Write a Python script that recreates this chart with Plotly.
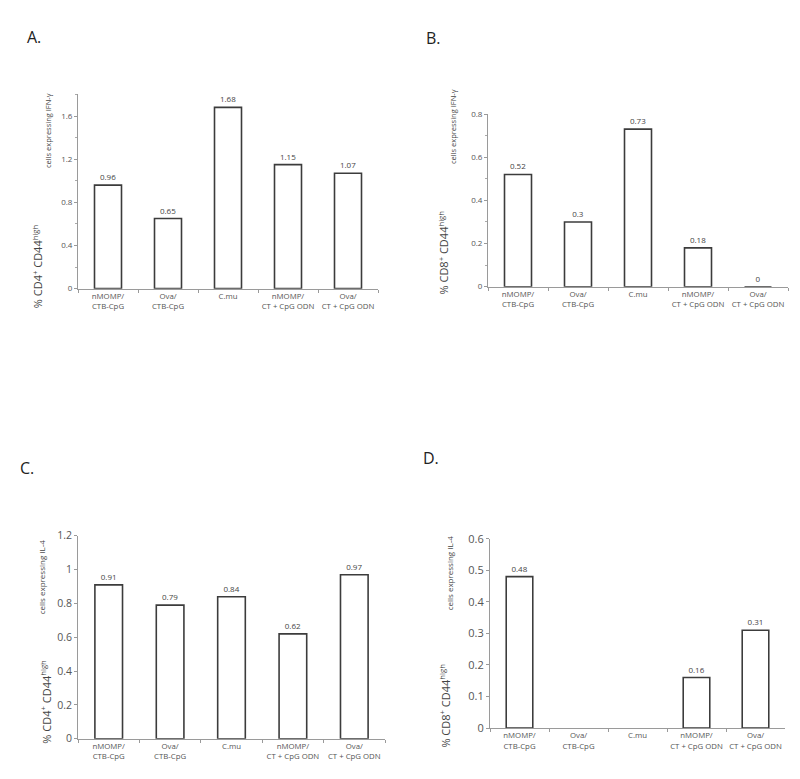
import plotly.graph_objects as go

categories = ["nMOMP/<br>CTB-CpG", "Ova/<br>CTB-CpG", "C.mu",
              "nMOMP/<br>CT + CpG ODN", "Ova/<br>CT + CpG ODN"]

cd4_ifng = [0.96, 0.65, 1.68, 1.15, 1.07]
cd8_ifng = [0.52, 0.3, 0.73, 0.18, 0]
cd4_il4 = [0.91, 0.79, 0.84, 0.62, 0.97]
cd8_il4 = [0.48, None, None, 0.16, 0.31]

W, H = 800, 779
FONT = "Open Sans"


def px(x):
    return x / W


def py(y):
    return 1 - y / H


# panel layout in pixels: (x0, x1, ytop, ybottom)
panels = [
    dict(vals=cd4_ifng, x=(70, 370), y=(80, 278), rng=[0, 1.8], dtick=0.4, minor=0.2, tf=8,
         letter="A.", lpos=(26, 21), cell="IFN-γ", cd="CD4",
         main_x=30, main_bot=300, cells_x=40, cells_top=77, mfs=11, cfs=7.5),
    dict(vals=cd8_ifng, x=(480, 780), y=(100, 276), rng=[0, 0.8], dtick=0.2, minor=0.1, tf=8,
         letter="B.", lpos=(425, 22), cell="IFN-γ", cd="CD8",
         main_x=436, main_bot=286, cells_x=445, cells_top=73, mfs=11, cfs=7.5),
    dict(vals=cd4_il4, x=(70, 377), y=(530, 737), rng=[0, 1.2], dtick=0.2, minor=None, tf=10.5,
         letter="C.", lpos=(19, 461), cell="IL-4", cd="CD4",
         main_x=38, main_bot=744, cells_x=33, cells_top=532, mfs=11, cfs=8),
    dict(vals=cd8_il4, x=(482, 777), y=(533, 726), rng=[0, 0.6], dtick=0.1, minor=None, tf=11,
         letter="D.", lpos=(423, 451), cell="IL-4", cd="CD8",
         main_x=437, main_bot=748, cells_x=441, cells_top=528, mfs=11, cfs=8),
]

fig = go.Figure()
annotations = []

for i, p in enumerate(panels, start=1):
    xa = "x" if i == 1 else f"x{i}"
    ya = "y" if i == 1 else f"y{i}"
    texts = [None if v is None else f"{v:g}" for v in p["vals"]]
    fig.add_trace(go.Bar(
        x=categories, y=p["vals"], xaxis=xa, yaxis=ya,
        text=texts, textposition="outside", cliponaxis=False,
        textfont=dict(size=8, color="#444", family=FONT),
        marker=dict(color="white", line=dict(color="#3c3c3c", width=1.6)),
        showlegend=False,
    ))

    xkey = "xaxis" if i == 1 else f"xaxis{i}"
    ykey = "yaxis" if i == 1 else f"yaxis{i}"
    yaxis = dict(
        domain=[py(p["y"][1]), py(p["y"][0])], anchor=xa, range=p["rng"],
        dtick=p["dtick"], tick0=0, showgrid=False, zeroline=False,
        showline=True, linecolor="#9a9a9a", linewidth=1,
        ticks="outside", ticklen=3, tickcolor="#9a9a9a",
        tickfont=dict(size=p["tf"], color="#555", family=FONT),
    )
    if p["minor"]:
        yaxis["minor"] = dict(dtick=p["minor"], ticks="outside", ticklen=2,
                              tickcolor="#aaa", showgrid=False)
    fig.update_layout({
        xkey: dict(domain=[px(p["x"][0]), px(p["x"][1])], anchor=ya,
                   showline=True, linecolor="#9a9a9a", linewidth=1,
                   ticks="outside", ticklen=3, tickcolor="#9a9a9a",
                   tickson="boundaries", showgrid=False, tickangle=0,
                   tickfont=dict(size=7.8, color="#555", family=FONT)),
        ykey: yaxis,
    })

    annotations.append(dict(
        text=p["letter"], x=px(p["lpos"][0]), y=py(p["lpos"][1]),
        xref="paper", yref="paper", xanchor="center", yanchor="middle",
        showarrow=False, font=dict(size=16, color="#222", family=FONT)))
    annotations.append(dict(
        text=f"% {p['cd']}<sup>+</sup> CD44<sup>high</sup>",
        x=px(p["main_x"]), y=py(p["main_bot"]), xref="paper", yref="paper",
        xanchor="center", yanchor="bottom", textangle=-90, showarrow=False,
        font=dict(size=p["mfs"], color="#444", family=FONT)))
    annotations.append(dict(
        text=f"cells expressing {p['cell']}",
        x=px(p["cells_x"]), y=py(p["cells_top"]), xref="paper", yref="paper",
        xanchor="center", yanchor="top", textangle=-90, showarrow=False,
        font=dict(size=p["cfs"], color="#444", family=FONT)))

fig.update_layout(
    width=W, height=H, margin=dict(l=0, r=0, t=0, b=0),
    paper_bgcolor="white", plot_bgcolor="white",
    bargap=0.55, annotations=annotations,
)

fig.write_html("out.html")
